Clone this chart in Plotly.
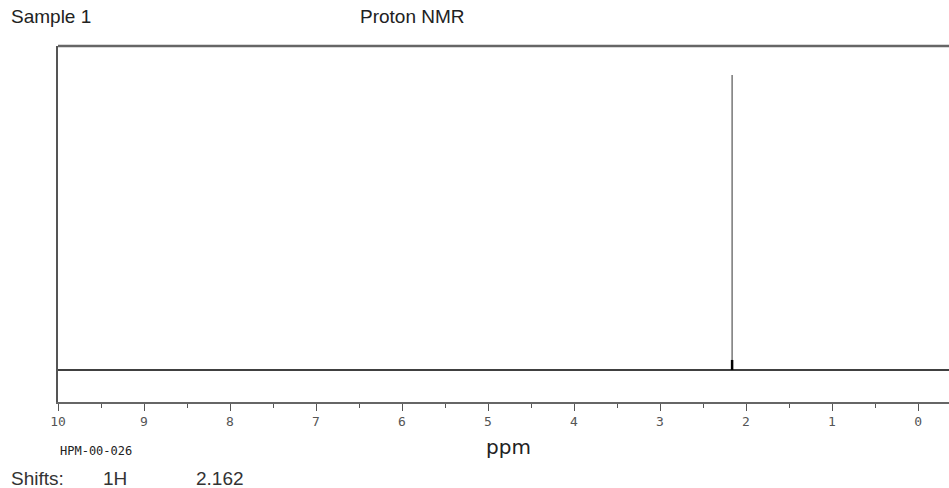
import plotly.graph_objects as go

# ---- data ----
ppm_start = 10.0          # left end of spectrum window
ppm_end = -0.36           # right end of spectrum window
peak_shifts = [2.162]     # 1H shift (ppm)
peak_heights = [1.0]      # relative intensity
foot_heights = [0.034]    # small broadened foot at base of peak
tick_values = [10, 9, 8, 7, 6, 5, 4, 3, 2, 1, 0]
tick_labels = ["10", "9", "8", "7", "6", "5", "4", "3", "2", "1", "0"]
sample_name = "Sample 1"
experiment = "Proton NMR"
sample_id = "HPM-00-026"
shift_nucleus = "1H"
shift_values = ["2.162"]

fig = go.Figure()

# baseline
fig.add_trace(go.Scatter(x=[ppm_start, ppm_end], y=[0, 0], mode="lines",
                         line=dict(color="black", width=1.5), hoverinfo="skip"))
# peak sticks
for s, h in zip(peak_shifts, peak_heights):
    fig.add_trace(go.Scatter(x=[s, s], y=[0, h], mode="lines",
                             line=dict(color="#555555", width=1.2), hoverinfo="skip"))
for s, h in zip(peak_shifts, foot_heights):
    fig.add_trace(go.Scatter(x=[s, s], y=[0, h], mode="lines",
                             line=dict(color="black", width=2.5), hoverinfo="skip"))

fig.update_layout(
    width=949, height=488,
    margin=dict(l=58, r=0, t=46, b=86),
    paper_bgcolor="white", plot_bgcolor="white",
    showlegend=False,
    xaxis=dict(range=[ppm_start, ppm_end], showgrid=False, zeroline=False,
               showline=True, linecolor="#666666", linewidth=1.5,
               ticks="outside", ticklen=7, tickcolor="#555555", tickwidth=1,
               tickvals=tick_values, ticktext=tick_labels,
               tickfont=dict(family="DejaVu Sans Mono", size=13, color="#555555"),
               minor=dict(ticks="outside", ticklen=4, tickcolor="#555555", dtick=0.5, tick0=0.5, showgrid=False)),
    yaxis=dict(range=[-0.1085, 1.098], showgrid=False, zeroline=False,
               showline=True, linecolor="#555555", linewidth=2,
               showticklabels=False, ticks=""),
    shapes=[dict(type="line", xref="paper", yref="paper", x0=0, x1=1, y0=1, y1=1,
                 line=dict(color="#666666", width=2.5))],
)

W = 891.0
H = 356.0
fig.add_annotation(text=sample_name, xref="paper", yref="paper", x=(9 - 58) / W, y=1 + 29 / H,
                   xanchor="left", yanchor="middle", showarrow=False,
                   font=dict(family="Liberation Sans", size=19, color="#222222"))
fig.add_annotation(text=experiment, xref="paper", yref="paper", x=(412 - 58) / W, y=1 + 29 / H,
                   xanchor="center", yanchor="middle", showarrow=False,
                   font=dict(family="Liberation Sans", size=19, color="#222222"))
fig.add_annotation(text=sample_id, xref="paper", yref="paper", x=0, y=-(451 - 402) / H,
                   xanchor="left", yanchor="middle", showarrow=False,
                   font=dict(family="DejaVu Sans Mono", size=12, color="#222222"))
fig.add_annotation(text="ppm", xref="paper", yref="paper", x=(508 - 58) / W, y=-(447 - 402) / H,
                   xanchor="center", yanchor="middle", showarrow=False,
                   font=dict(family="DejaVu Sans", size=20, color="#222222"))
fig.add_annotation(text="Shifts:", xref="paper", yref="paper", x=(9 - 58) / W, y=-(478 - 402) / H,
                   xanchor="left", yanchor="middle", showarrow=False,
                   font=dict(family="Liberation Sans", size=19, color="#333333"))
fig.add_annotation(text=shift_nucleus, xref="paper", yref="paper", x=(101 - 58) / W, y=-(478 - 402) / H,
                   xanchor="left", yanchor="middle", showarrow=False,
                   font=dict(family="Liberation Sans", size=19, color="#333333"))
fig.add_annotation(text="  ".join(shift_values), xref="paper", yref="paper", x=(194 - 58) / W, y=-(478 - 402) / H,
                   xanchor="left", yanchor="middle", showarrow=False,
                   font=dict(family="Liberation Sans", size=19, color="#333333"))

fig.write_html("out.html")
